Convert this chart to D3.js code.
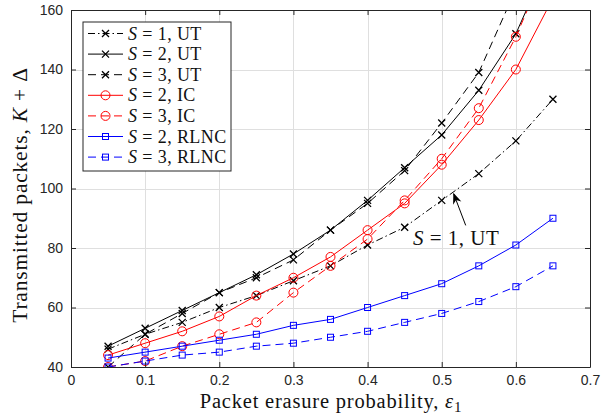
<!DOCTYPE html>
<meta charset='utf-8'>
<style>
  body { margin: 0; background: #fff; }
  .grid line { stroke: #dfdfdf; stroke-width: 1px; shape-rendering: crispEdges; }
  .grid path { display: none; }
  .axis text { font-family: 'Liberation Sans', Arial, sans-serif; font-size: 14px; fill: #262626; }
  .axis path, .axis line { stroke: #262626; }
  .serif { font-family: 'Liberation Serif', 'Times New Roman', serif; fill: #111; }
</style>
<body>
<script src='https://d3js.org/d3.v7.min.js'></script>
<script>
// erasure probability
var eps = [0.05, 0.1, 0.15, 0.2, 0.25, 0.3, 0.35, 0.4, 0.45, 0.5, 0.55, 0.6, 0.65];

// transmitted packets K + Delta (values past 160 leave the plot at the top)
var ut1  = [46, 51, 55, 60, 64, 69, 74, 81, 87, 96, 105, 116, 130];
var ut2  = [47, 53, 59, 65, 71, 78, 86, 96, 107, 118, 133, 152, 180];
var ut3  = [40, 51, 58, 65, 70, 76, 86, 95, 106, 122, 139, 167, 200];
var ic2  = [44, 48, 52, 57, 64, 70, 77, 86, 95, 108, 123, 140, 164];
var ic3  = [40, 42, 47, 51, 55, 65, 74, 83, 96, 110, 127, 151, 180];
var rl2  = [43, 45, 47, 49, 51, 54, 56, 60, 64, 68, 74, 81, 90];
var rl3  = [40, 42, 44, 45, 47, 48, 50, 52, 55, 58, 62, 67, 74];

var xTicks = [0, 0.1, 0.2, 0.3, 0.4, 0.5, 0.6, 0.7];
var yTicks = [40, 60, 80, 100, 120, 140, 160];

var series = [
  {name: 'UT',   s: 1, vals: ut1, color: '#000', dash: '7,3,1.5,3', mark: 'x'},
  {name: 'UT',   s: 2, vals: ut2, color: '#000', dash: null,        mark: 'x'},
  {name: 'UT',   s: 3, vals: ut3, color: '#000', dash: '8,5',       mark: 'x'},
  {name: 'IC',   s: 2, vals: ic2, color: '#ff0000', dash: null,     mark: 'o'},
  {name: 'IC',   s: 3, vals: ic3, color: '#ff0000', dash: '8,5',    mark: 'o'},
  {name: 'RLNC', s: 2, vals: rl2, color: '#0000ff', dash: null,     mark: 's'},
  {name: 'RLNC', s: 3, vals: rl3, color: '#0000ff', dash: '8,5',    mark: 's'}
];

var margin = {top: 10, right: 12, bottom: 53, left: 71},
    width = 602 - margin.left - margin.right,
    height = 420 - margin.top - margin.bottom;

var root = d3.select('body').append('svg')
    .attr('width', 602).attr('height', 420);

var svg = root.append('g')
    .attr('transform', 'translate(' + margin.left + ',' + margin.top + ')');

var x = d3.scaleLinear().domain([0, 0.7]).range([0, width]);
var y = d3.scaleLinear().domain([40, 160]).range([height, 0]);

// gridlines
svg.append('g').attr('class', 'grid')
    .attr('transform', 'translate(0,' + height + ')')
    .call(d3.axisBottom(x).tickValues(xTicks).tickSize(-height).tickFormat(''));
svg.append('g').attr('class', 'grid')
    .call(d3.axisLeft(y).tickValues(yTicks).tickSize(-width).tickFormat(''));

var defs = root.append('defs');
defs.append('clipPath').attr('id', 'clip')
  .append('rect').attr('width', width).attr('height', height);

var plot = svg.append('g').attr('clip-path', 'url(#clip)');

var line = d3.line()
    .x(function(d, i) { return x(eps[i]); })
    .y(function(d) { return y(d); });

function drawMarker(g, type, cx, cy, color) {
  if (type === 'x') {
    var r = 3.5;
    g.append('path')
      .attr('d', 'M' + (cx - r) + ',' + (cy - r) + 'L' + (cx + r) + ',' + (cy + r) +
                 'M' + (cx - r) + ',' + (cy + r) + 'L' + (cx + r) + ',' + (cy - r))
      .attr('stroke', color).attr('stroke-width', 1.3).attr('fill', 'none');
  } else if (type === 'o') {
    g.append('circle').attr('cx', cx).attr('cy', cy).attr('r', 4.5)
      .attr('stroke', color).attr('stroke-width', 1).attr('fill', 'none');
  } else {
    g.append('rect').attr('x', cx - 3).attr('y', cy - 3).attr('width', 6).attr('height', 6)
      .attr('stroke', color).attr('stroke-width', 1).attr('fill', 'none');
  }
}

series.forEach(function(s) {
  plot.append('path')
    .datum(s.vals)
    .attr('d', line)
    .attr('fill', 'none')
    .attr('stroke', s.color)
    .attr('stroke-width', 1)
    .attr('stroke-dasharray', s.dash);
  s.vals.forEach(function(v, i) {
    if (v <= 160) drawMarker(plot, s.mark, x(eps[i]), y(v), s.color);
  });
});

// axes (box with inward ticks on all sides)
svg.append('g').attr('class', 'axis')
    .attr('transform', 'translate(0,' + height + ')')
    .call(d3.axisBottom(x).tickValues(xTicks).tickSizeInner(-5).tickSizeOuter(0)
      .tickPadding(8).tickFormat(function(d) { return d === 0 ? '0' : d3.format('.1f')(d); }));
svg.append('g').attr('class', 'axis')
    .call(d3.axisTop(x).tickValues(xTicks).tickSizeInner(-5).tickSizeOuter(0).tickFormat(''));
svg.append('g').attr('class', 'axis')
    .call(d3.axisLeft(y).tickValues(yTicks).tickSizeInner(-5).tickSizeOuter(0).tickPadding(8));
svg.append('g').attr('class', 'axis')
    .attr('transform', 'translate(' + width + ',0)')
    .call(d3.axisRight(y).tickValues(yTicks).tickSizeInner(-5).tickSizeOuter(0).tickFormat(''));

// axis labels
root.append('text').attr('class', 'serif')
    .attr('x', 331).attr('y', 408)
    .attr('text-anchor', 'middle').style('font-size', '20.5px').style('letter-spacing', '0.8px')
    .html('Packet erasure probability, <tspan font-style="italic">ε</tspan><tspan dy="4" font-size="15px">1</tspan>');

root.append('text').attr('class', 'serif')
    .attr('transform', 'translate(27,195) rotate(-90)')
    .attr('text-anchor', 'middle').style('font-size', '21.5px').style('letter-spacing', '0.8px')
    .html('Transmitted packets, <tspan font-style="italic">K</tspan> + Δ');

// legend
var leg = svg.append('g').attr('transform', 'translate(12,12)');
leg.append('rect').attr('width', 148).attr('height', 149)
    .attr('fill', '#fff').attr('stroke', '#262626').attr('stroke-width', 1);
series.forEach(function(s, i) {
  var ly = 11.5 + i * 20.6;
  leg.append('line').attr('x1', 5).attr('x2', 40).attr('y1', ly).attr('y2', ly)
    .attr('stroke', s.color).attr('stroke-width', 1).attr('stroke-dasharray', s.dash);
  drawMarker(leg, s.mark, 22.5, ly, s.color);
  leg.append('text').attr('class', 'serif')
    .attr('x', 45).attr('y', ly + 6).style('font-size', '18px').style('letter-spacing', '0.4px')
    .html('<tspan font-style="italic">S</tspan> = ' + s.s + ', ' + s.name);
});

// annotation arrow pointing at the S = 1 curve
defs.append('marker').attr('id', 'arr')
    .attr('viewBox', '0 0 10 10').attr('refX', 9).attr('refY', 5)
    .attr('markerWidth', 11).attr('markerHeight', 11).attr('markerUnits', 'userSpaceOnUse')
    .attr('orient', 'auto')
  .append('path').attr('d', 'M0,1L10,5L0,9L3,5Z').attr('fill', '#000');
svg.append('line')
    .attr('x1', x(0.5) + 24).attr('y1', y(96) + 25)
    .attr('x2', x(0.5) + 12).attr('y2', y(96) - 6.5)
    .attr('stroke', '#000').attr('stroke-width', 1).attr('marker-end', 'url(#arr)');
svg.append('text').attr('class', 'serif')
    .attr('x', 342).attr('y', 235).style('font-size', '21px').style('letter-spacing', '0.5px')
    .html('<tspan font-style="italic">S</tspan> = 1, UT');
</script>
</body>
